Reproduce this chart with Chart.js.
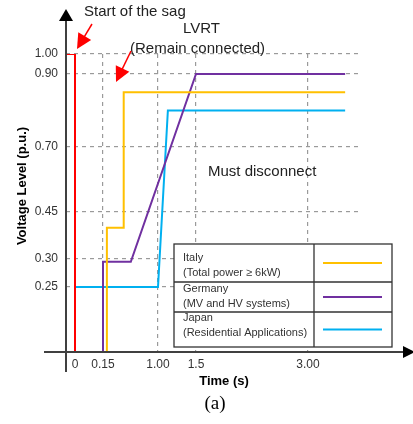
<!DOCTYPE html>
<html>
<head>
<meta charset="utf-8">
<script src="https://cdn.jsdelivr.net/npm/chart.js@4.4.1/dist/chart.umd.min.js"></script>
<style>
  html, body { margin: 0; padding: 0; background: #fff; }
  #wrap { width: 413px; height: 424px; position: relative; }
</style>
</head>
<body>
<div id="wrap"><canvas id="myChart"></canvas></div>
<script>
// tick values and labels
const xTicks = [0, 0.15, 1.00, 1.5, 3.00];
const xTickLabels = ["0", "0.15", "1.00", "1.5", "3.00"];
const yTicks = [0.25, 0.30, 0.45, 0.70, 0.90, 1.00];
const yTickLabels = ["0.25", "0.30", "0.45", "0.70", "0.90", "1.00"];

// start of the sag
const sagTime = [-0.05, 0, 0];
const sagVoltage = [1.00, 1.00, 0];

// Italy (Total power >= 6kW)
const italyTime = [0.21, 0.21, 0.47, 0.47, 3.5];
const italyVoltage = [0, 0.40, 0.40, 0.85, 0.85];

// Germany (MV and HV systems)
const germanyTime = [0.15, 0.15, 0.58, 1.5, 3.5];
const germanyVoltage = [0, 0.295, 0.295, 0.90, 0.90];

// Japan (Residential Applications)
const japanTime = [0, 1.00, 1.13, 3.5];
const japanVoltage = [0.25, 0.25, 0.80, 0.80];

const toPoints = (xs, ys) => xs.map((x, i) => ({x: x, y: ys[i]}));

// axis that is linear between break points (the figure is not drawn to scale)
class PiecewiseScale extends Chart.LinearScale {
  frac(value) {
    const s = this.options.stops;
    if (value <= s[0][0]) return s[0][1];
    for (let i = 1; i < s.length; i++) {
      if (value <= s[i][0]) {
        const t = (value - s[i-1][0]) / (s[i][0] - s[i-1][0]);
        return s[i-1][1] + t * (s[i][1] - s[i-1][1]);
      }
    }
    return s[s.length - 1][1];
  }
  getPixelForValue(value) {
    const f = this.frac(value);
    return this.isHorizontal() ? this.left + f * this.width : this.bottom - f * this.height;
  }
  getValueForPixel(pixel) {
    const s = this.options.stops;
    const f = this.isHorizontal() ? (pixel - this.left) / this.width : (this.bottom - pixel) / this.height;
    for (let i = 1; i < s.length; i++) {
      if (f <= s[i][1]) {
        const t = (f - s[i-1][1]) / (s[i][1] - s[i-1][1]);
        return s[i-1][0] + t * (s[i][0] - s[i-1][0]);
      }
    }
    return s[s.length - 1][0];
  }
}
PiecewiseScale.id = 'piecewise';
PiecewiseScale.defaults = Chart.LinearScale.defaults;
Chart.register(PiecewiseScale);

const axisColor = "#404040";
const font = "'Liberation Sans', Arial, sans-serif";

function arrow(ctx, x1, y1, x2, y2, size, color) {
  const a = Math.atan2(y2 - y1, x2 - x1);
  ctx.strokeStyle = color;
  ctx.fillStyle = color;
  ctx.lineWidth = 1.5;
  ctx.beginPath();
  ctx.moveTo(x1, y1);
  ctx.lineTo(x2 - Math.cos(a) * size * 0.8, y2 - Math.sin(a) * size * 0.8);
  ctx.stroke();
  ctx.beginPath();
  ctx.moveTo(x2, y2);
  ctx.lineTo(x2 - size * Math.cos(a) + size * 0.5 * Math.sin(a), y2 - size * Math.sin(a) - size * 0.5 * Math.cos(a));
  ctx.lineTo(x2 - size * Math.cos(a) - size * 0.5 * Math.sin(a), y2 - size * Math.sin(a) + size * 0.5 * Math.cos(a));
  ctx.closePath();
  ctx.fill();
}

const decorations = {
  id: 'decorations',
  afterDraw(chart) {
    const ctx = chart.ctx;
    const area = chart.chartArea;
    const ox = area.left, oy = area.bottom;
    ctx.save();

    // axes with arrow heads
    ctx.strokeStyle = axisColor;
    ctx.fillStyle = "#000";
    ctx.lineWidth = 2;
    ctx.beginPath();
    ctx.moveTo(ox, 372); ctx.lineTo(ox, 20);
    ctx.moveTo(44, oy); ctx.lineTo(404, oy);
    ctx.stroke();
    ctx.beginPath();
    ctx.moveTo(ox, 9); ctx.lineTo(ox - 7, 21); ctx.lineTo(ox + 7, 21); ctx.closePath(); ctx.fill();
    ctx.beginPath();
    ctx.moveTo(415, oy); ctx.lineTo(403, oy - 6); ctx.lineTo(403, oy + 6); ctx.closePath(); ctx.fill();

    // axis titles
    ctx.fillStyle = "#000";
    ctx.font = "bold 13px " + font;
    ctx.textAlign = "center";
    ctx.textBaseline = "middle";
    ctx.fillText("Time (s)", 224, 381);
    ctx.save();
    ctx.translate(22, 186);
    ctx.rotate(-Math.PI / 2);
    ctx.fillText("Voltage Level (p.u.)", 0, 0);
    ctx.restore();

    // annotations
    ctx.font = "15px " + font;
    ctx.fillStyle = "#222";
    ctx.textAlign = "left";
    ctx.fillText("Start of the sag", 84, 12);
    ctx.fillText("LVRT", 183, 29);
    ctx.fillText("(Remain connected)", 130, 49);
    ctx.fillText("Must disconnect", 208, 172);
    arrow(ctx, 92, 24, 77, 49, 15, "#ff0000");
    arrow(ctx, 131, 51, 116, 82, 15, "#ff0000");

    ctx.font = "19px 'Liberation Serif', 'Times New Roman', serif";
    ctx.fillStyle = "#000";
    ctx.textAlign = "center";
    ctx.fillText("(a)", 215, 404);

    // legend table
    const bx = 174, by = 244, bw = 218, bh = 103, split = 314;
    const rows = [by, 282, 312, by + bh];
    const sub = ["(Total power \u2265 6kW)", "(MV and HV systems)", "(Residential Applications)"];
    const textY = [[258, 273], [289, 304], [318, 333]];
    ctx.fillStyle = "#fff";
    ctx.fillRect(bx, by, bw, bh);
    ctx.strokeStyle = "#333";
    ctx.lineWidth = 1.3;
    ctx.strokeRect(bx, by, bw, bh);
    ctx.beginPath();
    ctx.moveTo(split, by); ctx.lineTo(split, by + bh);
    ctx.moveTo(bx, rows[1]); ctx.lineTo(bx + bw, rows[1]);
    ctx.moveTo(bx, rows[2]); ctx.lineTo(bx + bw, rows[2]);
    ctx.stroke();
    ctx.font = "11px " + font;
    ctx.textAlign = "left";
    const legendSets = chart.data.datasets.slice(1);
    legendSets.forEach((ds, i) => {
      const mid = (rows[i] + rows[i + 1]) / 2;
      ctx.fillStyle = "#333";
      ctx.fillText(ds.label, 183, textY[i][0]);
      ctx.fillText(sub[i], 183, textY[i][1]);
      ctx.strokeStyle = ds.borderColor;
      ctx.lineWidth = 2;
      ctx.beginPath();
      ctx.moveTo(323, mid); ctx.lineTo(382, mid);
      ctx.stroke();
    });
    ctx.restore();
  }
};

const line = (label, xs, ys, color) => ({
  label: label,
  data: toPoints(xs, ys),
  borderColor: color,
  borderWidth: 2,
  pointRadius: 0,
  tension: 0,
  fill: false
});

new Chart("myChart", {
  type: "line",
  data: {
    datasets: [
      line("Start of the sag", sagTime, sagVoltage, "#ff0000"),
      line("Italy", italyTime, italyVoltage, "#ffc000"),
      line("Germany", germanyTime, germanyVoltage, "#7030a0"),
      line("Japan", japanTime, japanVoltage, "#00b0f0")
    ]
  },
  options: {
    responsive: true,
    maintainAspectRatio: false,
    animation: false,
    layout: { padding: { top: 54, right: 53, left: 0, bottom: 0 } },
    plugins: { legend: { display: false }, tooltip: { enabled: false } },
    scales: {
      x: {
        type: "piecewise",
        min: -0.05,
        max: 3.7,
        stops: [[-0.05, 0], [0, 9/294], [0.15, 37/294], [1.00, 92/294], [1.5, 130/294], [3.00, 242/294], [3.7, 1]],
        afterBuildTicks: s => { s.ticks = xTicks.map(v => ({value: v})); },
        afterFit: s => { s.height = 72; },
        border: { display: false, dash: [4, 4] },
        grid: { color: "#9a9a9a", lineWidth: 1.2, drawTicks: false },
        ticks: {
          autoSkip: false,
          maxRotation: 0,
          padding: 5,
          color: "#333",
          font: { family: font, size: 12 },
          callback: (v) => xTickLabels[xTicks.indexOf(v)]
        }
      },
      y: {
        type: "piecewise",
        min: 0,
        max: 1.00,
        stops: [[0, 0], [0.25, 65/298], [0.30, 93/298], [0.45, 140/298], [0.70, 205/298], [0.90, 278/298], [1.00, 1]],
        afterBuildTicks: s => { s.ticks = yTicks.map(v => ({value: v})); },
        afterFit: s => { s.width = 66; },
        border: { display: false, dash: [4, 4] },
        grid: { color: "#9a9a9a", lineWidth: 1.2, drawTicks: false },
        ticks: {
          autoSkip: false,
          padding: 8,
          color: "#333",
          font: { family: font, size: 12 },
          callback: (v) => yTickLabels[yTicks.indexOf(v)]
        }
      }
    }
  },
  plugins: [decorations]
});
</script>
</body>
</html>
